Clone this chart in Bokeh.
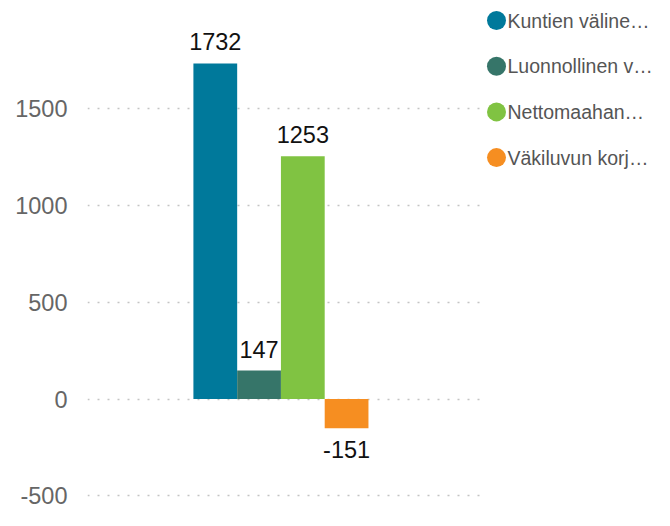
from bokeh.plotting import figure
from bokeh.models import ColumnDataSource, Range1d, FixedTicker, CustomJSTickFormatter
from bokeh.layouts import row
from bokeh.embed import file_html
from bokeh.resources import INLINE
from bokeh.core.properties import value

series = ["Kuntien väline…", "Luonnollinen v…", "Nettomaahan…", "Väkiluvun korj…"]
values = [1732, 147, 1253, -151]
colors = ["#00799b", "#367569", "#80c342", "#f68e21"]
y_ticks = [-500, 0, 500, 1000, 1500]

FONT = "Liberation Sans"

idx = list(range(len(series)))
src = ColumnDataSource(dict(
    x=idx, top=values, color=colors,
    label=[str(v) for v in values],
    baseline=["bottom" if v >= 0 else "top" for v in values],
    yoff=[-13 if v >= 0 else 13 for v in values],
))

p = figure(width=480, height=510, output_backend="svg", toolbar_location=None,
           x_range=Range1d(-2.92, 6.06), y_range=Range1d(-575, 2057),
           min_border_left=87, min_border_right=0, min_border_top=0, min_border_bottom=0)
p.outline_line_color = None
p.xaxis.visible = False
p.xgrid.visible = False
p.vbar(x="x", top="top", bottom=0, width=1.0, fill_color="color", line_color=None, source=src)
p.text(x="x", y="top", text="label", text_align="center", text_baseline="baseline",
       y_offset="yoff", text_font=value(FONT), text_font_size="23.5px", text_color="#111111",
       source=src)

ax = p.yaxis[0]
ax.ticker = FixedTicker(ticks=y_ticks)
ax.formatter = CustomJSTickFormatter(code="return String(tick);")
ax.axis_line_color = None
ax.major_tick_line_color = None
ax.minor_tick_line_color = None
ax.major_tick_out = 0
ax.major_tick_in = 0
ax.major_label_standoff = 20
ax.major_label_text_font = FONT
ax.major_label_text_font_size = "23.5px"
ax.major_label_text_color = "#666666"
p.ygrid.ticker = FixedTicker(ticks=y_ticks)
p.ygrid.grid_line_color = "#c4c4c4"
p.ygrid.grid_line_dash = "2 8"
p.ygrid.grid_line_width = 1.5

# legend panel
n = len(series)
row_h = 45.7
top_off = 20 / row_h
lg = figure(width=174, height=510, output_backend="svg", toolbar_location=None,
            x_range=Range1d(0, 174), y_range=Range1d(510 / row_h - top_off, -top_off),
            min_border=0)
lg.axis.visible = False
lg.grid.visible = False
lg.outline_line_color = None
lsrc = ColumnDataSource(dict(y=idx, name=series, color=colors))
lg.scatter(x=16, y="y", size=19, fill_color="color", line_color=None, source=lsrc)
lg.text(x=27, y="y", text="name", text_baseline="middle", text_align="left",
        text_font=value(FONT), text_font_size="19.5px", text_color="#555555", source=lsrc)

layout = row(p, lg)
open("out.html", "w").write(file_html(layout, INLINE))
